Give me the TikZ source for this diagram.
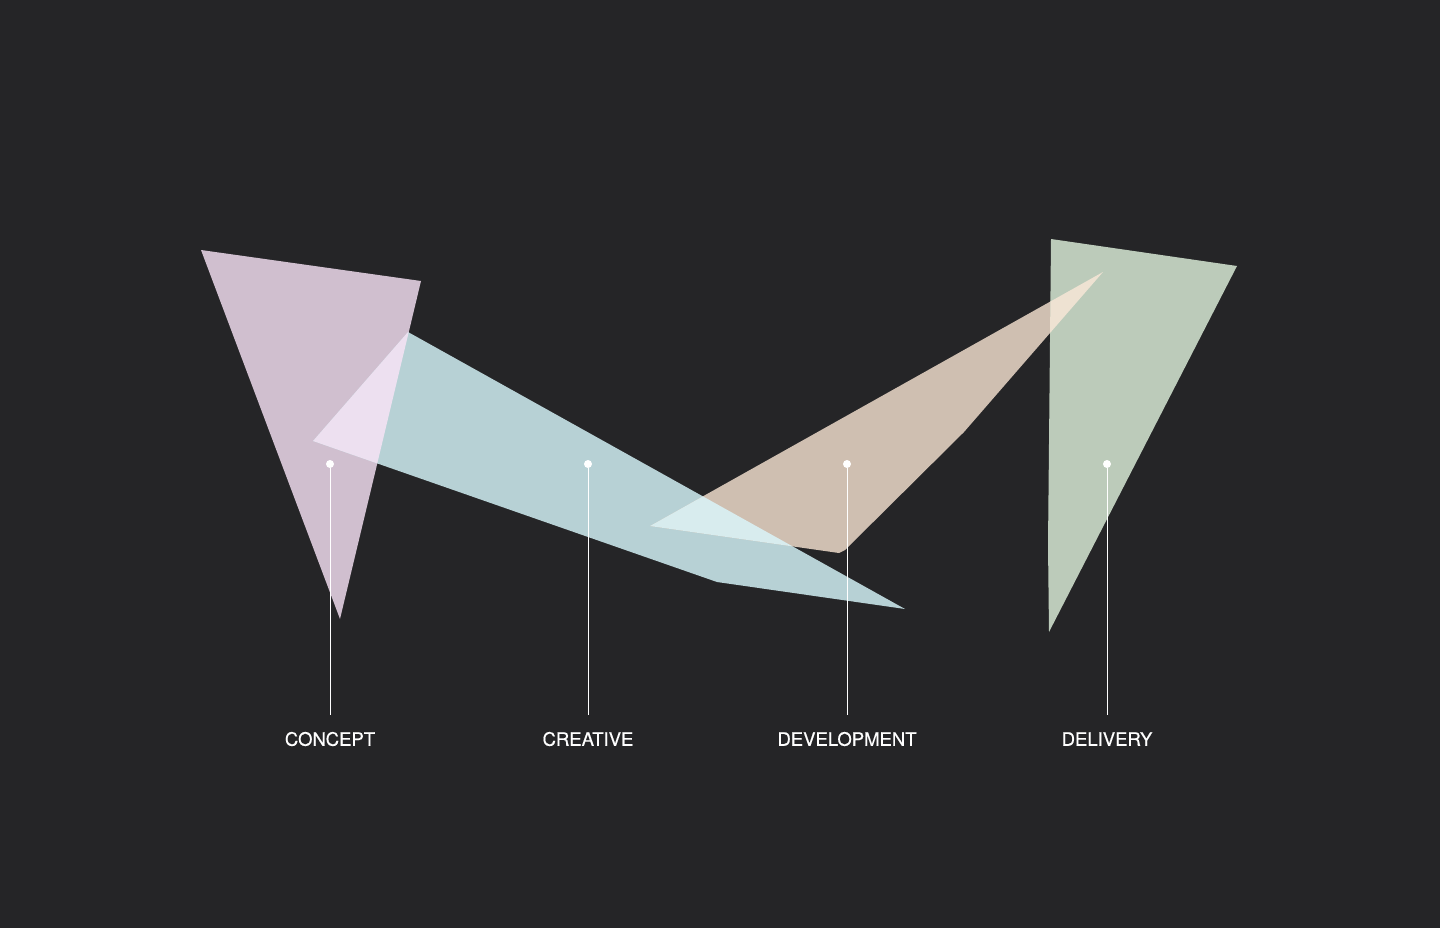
\documentclass[tikz,border=0pt]{standalone}
\usepackage{fontspec}
\setmainfont{TeX Gyre Heros}
\newfontfamily\labelfont[FakeBold=0.5]{TeX Gyre Heros}
\definecolor{bg}{HTML}{252527}
\definecolor{conceptcol}{HTML}{D0BFCF}
\definecolor{creativecol}{HTML}{B7D1D5}
\definecolor{developcol}{HTML}{CFBFB1}
\definecolor{deliverycol}{HTML}{BCCBBA}
\definecolor{mixPT}{HTML}{EDE0F0}
\definecolor{mixTT}{HTML}{D8ECEE}
\definecolor{mixTG}{HTML}{EEE2D2}
\begin{document}
\begin{tikzpicture}[x = 1pt, y = -1pt,
	dot/.style = {circle, fill = white, inner sep = 0pt, minimum size = 8pt},
	label/.style = {text = white, font = \labelfont\fontsize{18.5}{20}\selectfont},
	stem/.style = {white, line width = 1pt}]
	%	canvas
	\fill[bg] (0, 0) rectangle (1440, 928);
	\useasboundingbox (0, 0) rectangle (1440, 928);
	
	%	shapes
	\def\concept{(201, 250) -- (421, 281) -- (340, 619) -- cycle}
	\def\creative{(408, 332) -- (905, 609) -- (717, 582) -- (313, 441) -- cycle}
	\def\develop{(1103, 272) -- (964, 432) -- (845, 550) -- (839, 553) -- (650, 526) -- cycle}
	\def\delivery{(1051, 239) -- (1237, 266) -- (1049, 632) -- (1048, 545) -- cycle}
	
	\fill[conceptcol] \concept;
	\fill[creativecol] \creative;
	\fill[developcol] \develop;
	\fill[deliverycol] \delivery;
	
	%	overlaps
	\begin{scope}
		\clip \concept;
		\fill[mixPT] \creative;
	\end{scope}
	\begin{scope}
		\clip \creative;
		\fill[mixTT] \develop;
	\end{scope}
	\begin{scope}
		\clip \delivery;
		\fill[mixTG] \develop;
	\end{scope}
	
	%	markers
	\foreach \x/\name/\txt in {330/concept/CONCEPT, 588/creative/CREATIVE, 847/develop/DEVELOPMENT, 1107/delivery/DELIVERY}{
		\node[dot] (\name Dot) at (\x, 464) {};
		\coordinate (\name End) at (\x, 715);
		\node[label] (\name Label) at (\x, 739) {\txt};
		\draw[stem] (\name Dot) -- (\name End);
	}
\end{tikzpicture}
\end{document}
